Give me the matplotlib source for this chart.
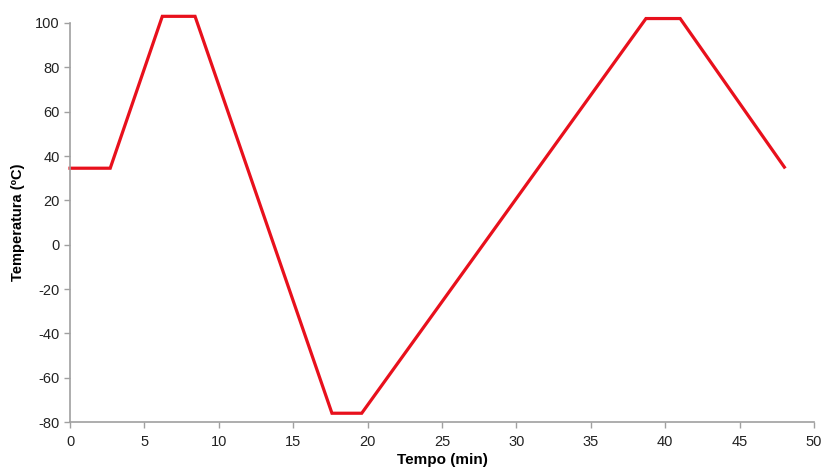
import matplotlib.pyplot as plt

# perfil de temperatura do ciclo
tempo = [0, 2.7, 6.2, 8.4, 17.6, 19.6, 38.7, 41.0, 48.0]
temperatura = [34.5, 34.5, 103, 103, -76, -76, 102, 102, 35]

plt.rcParams['font.family'] = ['Liberation Sans', 'DejaVu Sans']
plt.rcParams['axes.unicode_minus'] = False

fig = plt.figure(figsize=(8.24, 4.69), dpi=100)
ax = fig.add_axes([0.085, 0.100, 0.903, 0.851])

ax.plot(tempo, temperatura, color='#e8101c', lw=2.3, clip_on=False,
        solid_joinstyle='miter')

ax.set_xlim(0, 50)
ax.set_ylim(-80, 100)
ax.set_xticks(range(0, 51, 5))
ax.set_yticks(range(-80, 101, 20))

for s in ['top', 'right']:
    ax.spines[s].set_visible(False)
for s in ['left', 'bottom']:
    ax.spines[s].set_color('#a0a0a0')
    ax.spines[s].set_linewidth(1.2)
ax.tick_params(colors='#a0a0a0', labelcolor='#222222', labelsize=10.5,
               length=4, width=1)
ax.tick_params(axis='x', pad=5)

ax.set_xlabel('Tempo (min)', fontsize=11, fontweight='bold', labelpad=3)
ax.set_ylabel('Temperatura (ºC)', fontsize=10.5, fontweight='bold', labelpad=7)

plt.savefig('out.png', dpi=100)
